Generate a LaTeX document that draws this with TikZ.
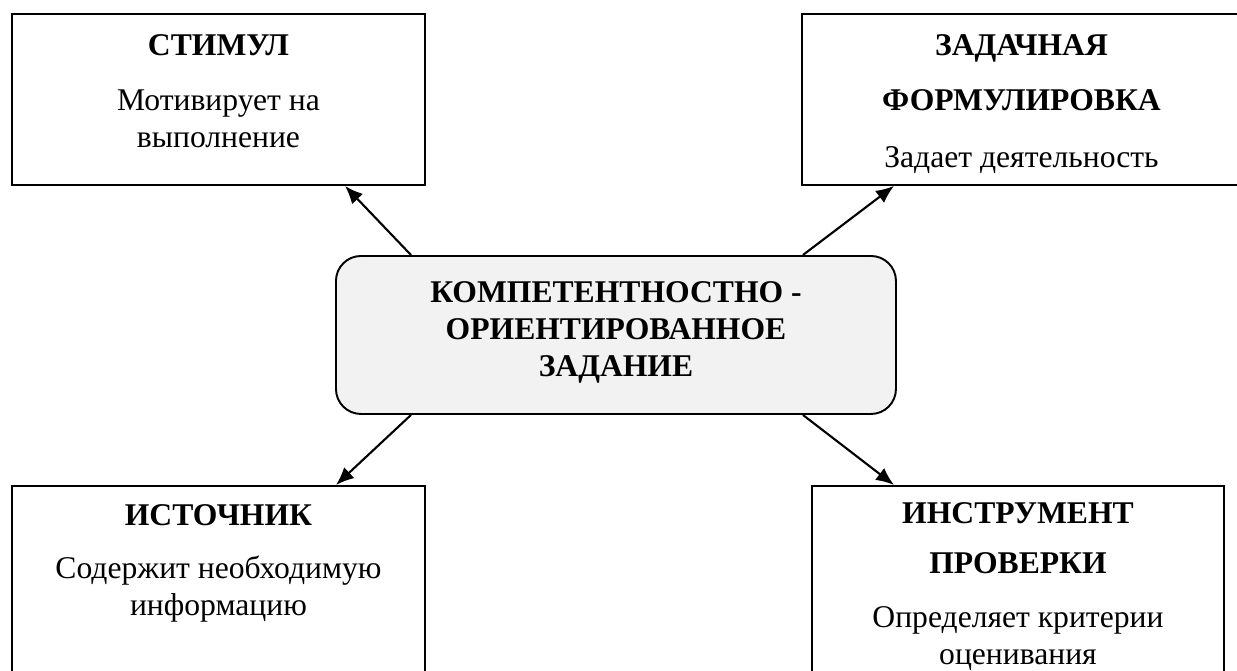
\documentclass[tikz,border=0pt]{standalone}
\usepackage{fontspec}
\setmainfont{Liberation Serif}
\usetikzlibrary{positioning,calc,arrows.meta}
\newlength{\pxl}
\setlength{\pxl}{0.02cm}
\newcommand{\cardbody}[3]{\parbox[c][#1\pxl][t]{#2\pxl}{\centering #3}}

\begin{document}
\begin{tikzpicture}[x=0.02cm,y=-0.02cm,font=\fontsize{18}{21}\selectfont]
    \tikzstyle{card} = [draw,line width=1.1pt,inner sep=0pt,anchor=north west]
    \tikzstyle{core} = [card,rounded corners=0.5cm,fill=black!5]
    \tikzstyle{link} = [-{Latex[length=0.36cm,width=0.3cm]},line width=1.2pt]
    \useasboundingbox (0,0) rectangle (1237,670);
    \clip (0,0) rectangle (1237,670);
      \node[card] (stimulus) at (11,13) {\cardbody{171}{413}{\rule{0pt}{42\pxl}\textbf{СТИМУЛ}\\[18\pxl] Мотивирует на\\ выполнение}};
      \node[card] (wording) at (801,13) {\cardbody{171}{439}{\rule{0pt}{42\pxl}\textbf{ЗАДАЧНАЯ}\\[18\pxl] \textbf{ФОРМУЛИРОВКА}\\[20\pxl] Задает деятельность}};
      \node[core] (task) at (335,255) {\cardbody{158}{560}{\bfseries\rule{0pt}{47\pxl}КОМПЕТЕНТНОСТНО -\\ ОРИЕНТИРОВАННОЕ\\ ЗАДАНИЕ}};
      \node[card] (source) at (11,485) {\cardbody{200}{413}{\rule{0pt}{40\pxl}\textbf{ИСТОЧНИК}\\[16\pxl] Содержит необходимую\\ информацию}};
      \node[card] (checker) at (811,485) {\cardbody{200}{412}{\rule{0pt}{38\pxl}\textbf{ИНСТРУМЕНТ}\\[13\pxl] \textbf{ПРОВЕРКИ}\\[17\pxl] Определяет критерии\\ оценивания}};
      \draw[link] ($(task.north west)+(76,0)$) -- ($(stimulus.south west)+(334,0)$);
      \draw[link] ($(task.north east)+(-94,0)$) -- ($(wording.south west)+(93,0)$);
      \draw[link] ($(task.south west)+(76,0)$) -- ($(source.north west)+(325,0)$);
      \draw[link] ($(task.south east)+(-94,0)$) -- ($(checker.north west)+(83,0)$);
  \end{tikzpicture}
\end{document}
